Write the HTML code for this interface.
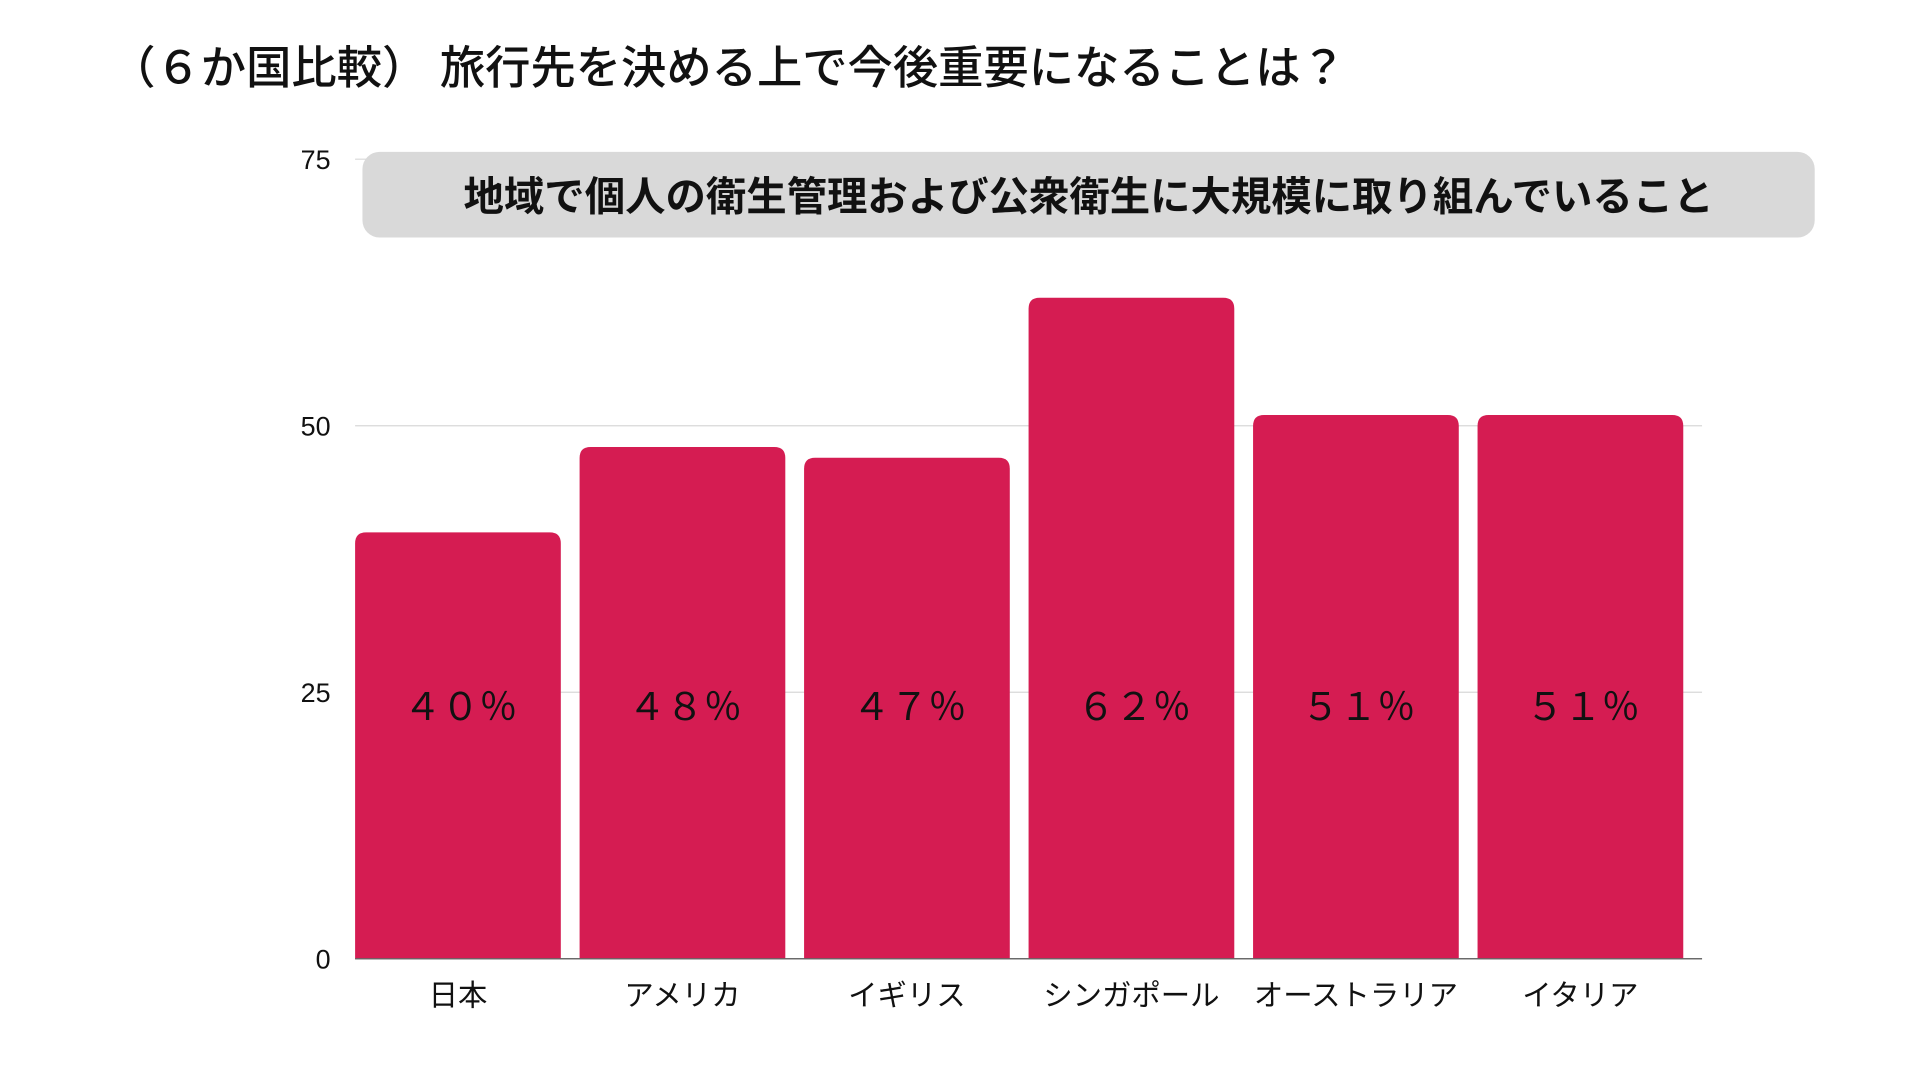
<!DOCTYPE html>
<html><head><meta charset="utf-8"><style>
html,body{margin:0;padding:0;background:#fff;width:1920px;height:1080px;overflow:hidden}
svg{display:block}
text{font-family:"Liberation Sans","Noto Sans CJK JP",sans-serif}
</style></head><body>
<svg id="chart" width="1920" height="1080" viewBox="0 0 1568 882" xmlns="http://www.w3.org/2000/svg">
<text x="90" y="68" font-size="37" fill="#111" font-weight="500">（６か国比較） 旅行先を決める上で今後重要になることは？</text>
<g id="grid"></g>
<g id="bars"></g>
<rect x="296" y="124" width="1186" height="70" rx="14" fill="#d9d9d9"/>
<text x="889" y="172" font-size="33" font-weight="bold" text-anchor="middle" fill="#111">地域で個人の衛生管理および公衆衛生に大規模に取り組んでいること</text>
</svg>
<script>
const categories=["日本","アメリカ","イギリス","シンガポール","オーストラリア","イタリア"];
const values=[40,48,47,62,51,51];
const valueLabels=["４０％","４８％","４７％","６２％","５１％","５１％"];
const ticks=[0,25,50,75];
const NS="http://www.w3.org/2000/svg";
const y0=783,yTop=130,yMax=75,left=290,right=1390;
const y=v=>y0-(v/yMax)*(y0-yTop);
const pitch=(right-left)/categories.length,bw=168;
const x=i=>left+i*pitch;
const grid=document.getElementById('grid'),bars=document.getElementById('bars');
function mk(t,a){const e=document.createElementNS(NS,t);for(const k in a)e.setAttribute(k,a[k]);return e;}
ticks.forEach(t=>{
  const l=mk('line',{x1:left,x2:right,y1:y(t),y2:y(t),stroke:t===0?'#666':'#d8d8d8','stroke-width':1});
  
  
  grid.appendChild(l);
  const tx=mk('text',{x:270,y:y(t)+8,'font-size':22,'text-anchor':'end',fill:'#111'});
  tx.textContent=t;
  
  
  grid.appendChild(tx);
});
values.forEach((v,i)=>{
  const bx=x(i),by=y(v),h=y0-by,r=9;
  const p=mk('path',{d:`M${bx},${y0}V${by+r}Q${bx},${by} ${bx+r},${by}H${bx+bw-r}Q${bx+bw},${by} ${bx+bw},${by+r}V${y0}Z`,fill:'#d51c52'});
  
  
  bars.appendChild(p);
  const vt=mk('text',{x:bx+bw/2+2,y:588,'font-size':31,'text-anchor':'middle',fill:'#111'});
  vt.textContent=valueLabels[i];
  
  
  bars.appendChild(vt);
  const ct=mk('text',{x:bx+bw/2,y:821,'font-size':24,'text-anchor':'middle',fill:'#111'});
  ct.textContent=categories[i];
  
  
  bars.appendChild(ct);
});
grid.lastChild;
// put baseline above bars
const base=mk('line',{x1:left,x2:right,y1:y0,y2:y0,stroke:'#666','stroke-width':1});


bars.appendChild(base);
</script>
</body></html>
